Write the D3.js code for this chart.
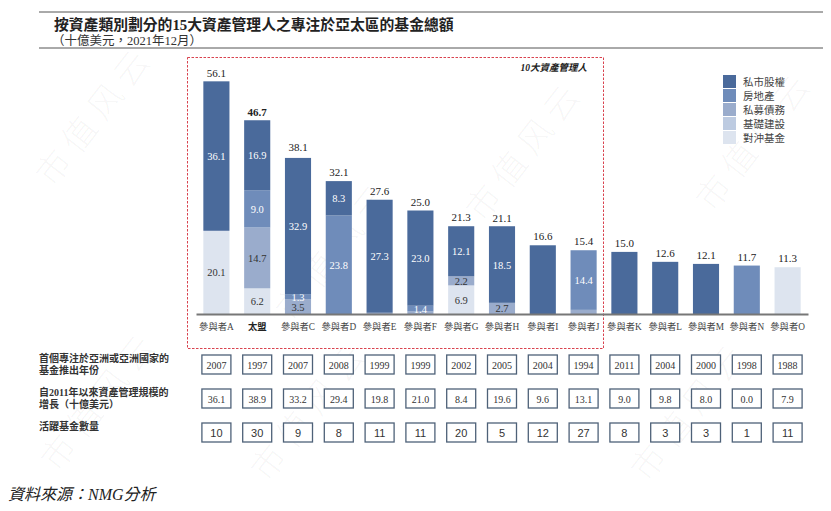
<!DOCTYPE html>
<html>
<head>
<meta charset="utf-8">
<script src="https://cdn.jsdelivr.net/npm/d3@7"></script>
<style>
  body { margin: 0; background: #fff; }
  svg { display: block; }
  text { font-family: "Liberation Serif", "Noto Sans CJK TC", serif; }
</style>
</head>
<body>
<div id="chart"></div>
<script>
// managers
const managers = ['參與者A', '太盟', '參與者C', '參與者D', '參與者E', '參與者F', '參與者G', '參與者H',
	'參與者I', '參與者J', '參與者K', '參與者L', '參與者M', '參與者N', '參與者O']
const totals = [56.1, 46.7, 38.1, 32.1, 27.6, 25.0, 21.3, 21.1, 16.6, 15.4, 15.0, 12.6, 12.1, 11.7, 11.3]

// asset classes, bottom of the stack first
const classes = ['對沖基金', '基礎建設', '私募債務', '房地產', '私市股權']
const hedge       = [20.1, 6.2, 0,   0,    0,   0,   6.9, 0,   0,    0,   0,    0,    0,    0,    11.3]
const infra       = [0,    0,   0,   0,    0,   0,   0,   0,   0,    0,   0,    0,    0,    0,    0]
const privDebt    = [0,    14.7, 3.5, 0,   0.3, 0.6, 2.2, 2.7, 0,   1.0, 0,    0,    0,    0,    0]
const realEstate  = [0,    9.0, 1.3, 23.8, 0,   1.4, 0,   0,   0,    14.4, 0,   0,    0,    11.7, 0]
const privEquity  = [36.1, 16.9, 32.9, 8.3, 27.3, 23.0, 12.1, 18.5, 16.6, 0, 15.0, 12.6, 12.1, 0,    0]

// table rows
const firstYear = ['2007', '1997', '2007', '2008', '1999', '1999', '2002', '2005', '2004', '1994', '2011', '2004', '2000', '1998', '1988']
const growth = ['36.1', '38.9', '33.2', '29.4', '19.8', '21.0', '8.4', '19.6', '9.6', '13.1', '9.0', '9.8', '8.0', '0.0', '7.9']
const funds = ['10', '30', '9', '8', '11', '11', '20', '5', '12', '27', '8', '3', '3', '1', '11']

const colors = ['#dde4ef', '#bdcbe1', '#9aaccc', '#6f8cba', '#4a6a9b']
const darkText = [true, true, true, false, false]

const width = 831, height = 511

const svg = d3.select('#chart').append('svg')
	.attr('width', width)
	.attr('height', height)

// faint watermark
const marks = [[95, 115], [335, 250], [525, 150], [755, 140], [100, 400], [690, 410], [310, 410]]
svg.append('g').selectAll('text')
	.data(marks)
	.join('text')
	.attr('transform', d => 'translate(' + d[0] + ',' + d[1] + ') rotate(-52)')
	.attr('text-anchor', 'middle')
	.attr('dy', '0.35em')
	.attr('font-size', 34)
	.attr('fill', '#000')
	.attr('fill-opacity', 0.045)
	.style('font-family', '"Noto Sans CJK SC"')
	.style('font-weight', 300)
	.attr('letter-spacing', 8)
	.text('市值风云')

// title block
svg.append('line').attr('x1', 39).attr('x2', 823).attr('y1', 12).attr('y2', 12)
	.attr('stroke', '#555').attr('stroke-width', 1)
svg.append('line').attr('x1', 39).attr('x2', 823).attr('y1', 48).attr('y2', 48)
	.attr('stroke', '#555').attr('stroke-width', 1)
svg.append('text')
	.attr('x', 54).attr('y', 30)
	.attr('font-size', 14.8)
	.attr('font-weight', 'bold')
	.attr('fill', '#222')
	.text('按資產類別劃分的15大資產管理人之專注於亞太區的基金總額')
svg.append('text')
	.attr('x', 52).attr('y', 45)
	.attr('font-size', 12.5)
	.attr('fill', '#333')
	.text('（十億美元，2021年12月）')

// scales
const x = d3.scaleBand()
	.domain(managers)
	.range([196, 808])
	.paddingInner(0.36)
	.paddingOuter(0.18)

const y = d3.scaleLinear()
	.domain([0, 60])
	.range([314, 65.6])

// top-10 highlight box
svg.append('rect')
	.attr('x', 187.5).attr('y', 57.5)
	.attr('width', 416).attr('height', 291)
	.attr('fill', 'none')
	.attr('stroke', '#d9434f')
	.attr('stroke-width', 1)
	.attr('stroke-dasharray', '2.5,1.5')
svg.append('text')
	.attr('x', 587).attr('y', 71)
	.attr('text-anchor', 'end')
	.attr('font-size', 9.5)
	.attr('font-weight', 'bold')
	.attr('font-style', 'italic')
	.attr('fill', '#222')
	.text('10大資產管理人')

// stacked bars
const rows = managers.map((m, i) => ({
	key: m,
	'對沖基金': hedge[i],
	'基礎建設': infra[i],
	'私募債務': privDebt[i],
	'房地產': realEstate[i],
	'私市股權': privEquity[i]
}))
const series = d3.stack().keys(classes)(rows)

const layer = svg.append('g').selectAll('g')
	.data(series)
	.join('g')
	.attr('fill', (d, i) => colors[i])

layer.selectAll('rect')
	.data(d => d)
	.join('rect')
	.attr('x', d => x(d.data.key))
	.attr('width', x.bandwidth())
	.attr('y', d => y(d[1]))
	.attr('height', d => Math.max(0, y(d[0]) - y(d[1])))

// segment labels, only for the top-10 stacks
const labelled = managers.slice(0, 8).concat(['參與者J'])
layer.each(function (s, si) {
	d3.select(this).selectAll('text')
		.data(s.filter(d => d[1] - d[0] >= 1.2 && labelled.includes(d.data.key)))
		.join('text')
		.attr('x', d => x(d.data.key) + x.bandwidth() / 2)
		.attr('y', d => (y(d[0]) + y(d[1])) / 2 + 4)
		.attr('text-anchor', 'middle')
		.attr('font-size', 10.5)
		.attr('fill', darkText[si] ? '#333' : '#fff')
		.text(d => (d[1] - d[0]).toFixed(1))
})

// totals above bars
svg.append('g').selectAll('text')
	.data(managers)
	.join('text')
	.attr('x', d => x(d) + x.bandwidth() / 2)
	.attr('y', (d, i) => y(totals[i]) - 5)
	.attr('text-anchor', 'middle')
	.attr('font-size', 11)
	.attr('font-weight', d => d === '太盟' ? 'bold' : 'normal')
	.attr('fill', '#222')
	.text((d, i) => totals[i].toFixed(1))

// baseline + category labels
const xAxis = svg.append('g')
	.attr('transform', 'translate(0,314)')
	.call(d3.axisBottom(x).tickSize(0).tickPadding(9))
xAxis.select('.domain').attr('stroke', '#777').attr('stroke-width', 1.8)
xAxis.selectAll('text')
	.attr('font-size', 9.3)
	.attr('font-family', null)
	.attr('font-weight', d => d === '太盟' ? 'bold' : 'normal')
	.attr('fill', d => d === '太盟' ? '#222' : '#444')

// legend
const legend = svg.append('g')
	.attr('transform', 'translate(723,75)')
legend.selectAll('g')
	.data(classes.slice().reverse())
	.join('g')
	.attr('transform', (d, i) => 'translate(0,' + i * 14 + ')')
	.call(g => g.append('rect')
		.attr('width', 13).attr('height', 13)
		.attr('fill', (d, i) => colors[4 - i]))
	.call(g => g.append('text')
		.attr('x', 20).attr('y', 10.5)
		.attr('font-size', 10.5)
		.attr('fill', '#444')
		.text(d => d))

// table below the chart
const table = [
	{ label: ['首個專注於亞洲或亞洲國家的', '基金推出年份'], values: firstYear, top: 355, sans: false },
	{ label: ['自2011年以來資產管理規模的', '增長（十億美元）'], values: growth, top: 389, sans: false },
	{ label: ['活躍基金數量'], values: funds, top: 423, sans: true }
]

table.forEach(row => {
	const g = svg.append('g')
	g.selectAll('text.lab')
		.data(row.label)
		.join('text')
		.attr('class', 'lab')
		.attr('x', 39)
		.attr('y', (d, i) => row.top + 7 + i * 12)
		.attr('font-size', 10)
		.attr('font-weight', 'bold')
		.attr('fill', '#333')
		.text(d => d)

	const cell = g.selectAll('g.cell')
		.data(row.values)
		.join('g')
		.attr('class', 'cell')
		.attr('transform', (d, i) => 'translate(' + (x(managers[i]) + x.bandwidth() / 2) + ',' + row.top + ')')
	cell.append('rect')
		.attr('x', -14.5).attr('y', 0)
		.attr('width', 29).attr('height', 19)
		.attr('fill', '#fff')
		.attr('stroke', '#4e6178')
		.attr('stroke-width', 1.3)
	cell.append('text')
		.attr('y', 13.5)
		.attr('text-anchor', 'middle')
		.attr('font-size', row.sans ? 11 : 10)
		.attr('fill', '#333')
		.style('font-family', row.sans ? '"Liberation Sans", Arial, sans-serif' : null)
		.text(d => d)
})

// source
svg.append('text')
	.attr('x', 8).attr('y', 500)
	.attr('font-size', 16)
	.attr('font-style', 'italic')
	.attr('fill', '#222')
	.text('資料來源：NMG分析')
</script>
</body>
</html>
